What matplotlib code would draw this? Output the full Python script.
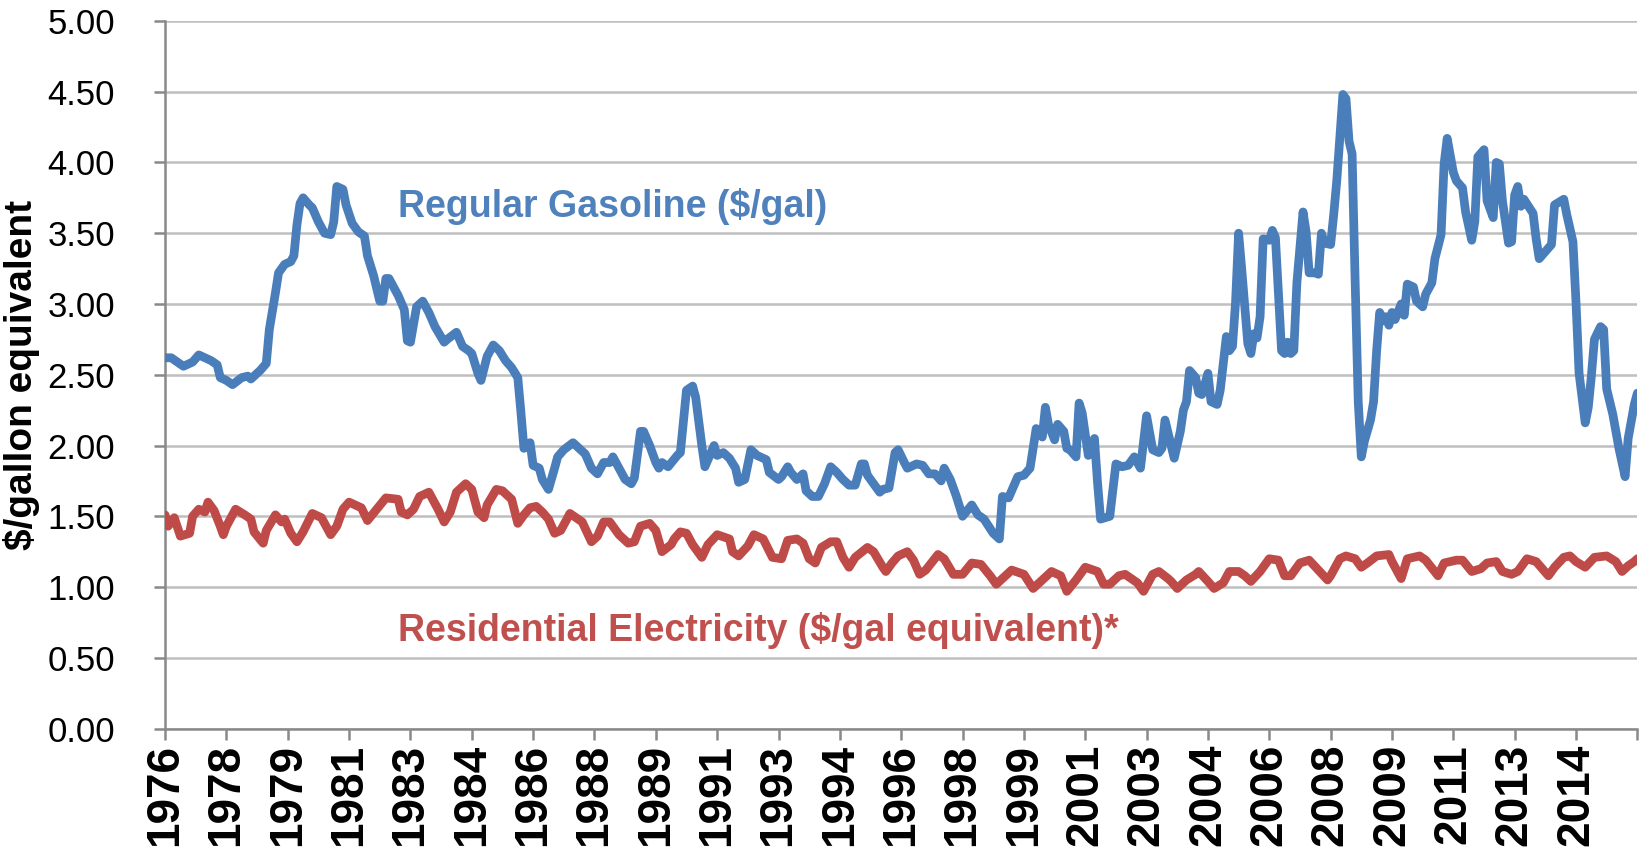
import matplotlib
matplotlib.use("Agg")
import matplotlib.pyplot as plt
from matplotlib.ticker import MultipleLocator, FixedLocator

plt.rcParams['font.family'] = ['Liberation Sans', 'DejaVu Sans']

# months counted from the first observation (Aug 1976)
gas_month = [0, 2, 4, 6, 9, 11, 15, 17, 18, 20, 22, 25, 27, 28, 31, 33, 34, 36, 37, 39,
             41, 42, 43, 44, 45, 47, 48, 50, 52, 54, 55, 56, 58, 59, 61, 63, 65, 66, 68, 70,
             71, 72, 73, 76, 78, 79, 80, 82, 84, 86, 88, 91, 92, 95, 97, 99, 100, 102, 103, 105,
             107, 109, 111, 113, 115, 116, 117, 119, 120, 122, 123, 125, 127, 128, 130, 133, 135, 137, 139, 141,
             143, 145, 146, 148, 150, 152, 153, 155, 156, 158, 160, 161, 162, 164, 167, 168, 170, 172, 173, 175,
             176, 179, 180, 182, 184, 186, 187, 189, 191, 193, 196, 197, 200, 201, 203, 204, 206, 208, 209, 211,
             213, 215, 217, 219, 221, 223, 225, 227, 228, 229, 231, 233, 234, 236, 238, 239, 241, 242, 245, 247,
             249, 251, 253, 254, 256, 258, 260, 263, 265, 267, 270, 272, 273, 275, 278, 280, 282, 284, 286, 287,
             288, 290, 291, 293, 294, 295, 297, 298, 299, 301, 303, 304, 305, 308, 310, 312, 314, 316, 318, 320,
             322, 324, 325, 326, 328, 329, 331, 332, 333, 334, 336, 337, 338, 340, 341, 343, 344, 346, 347, 348,
             349, 350, 351, 353, 354, 355, 356, 357, 358, 360, 361, 362, 364, 365, 366, 367, 368, 369, 371, 372,
             373, 375, 376, 377, 378, 380, 381, 382, 384, 385, 386, 387, 388, 389, 390, 391, 393, 394, 395, 396,
             397, 398, 399, 400, 401, 403, 404, 405, 407, 408, 410, 411, 413, 414, 416, 417, 418, 420, 421, 423,
             424, 426, 427, 428, 430, 431, 433, 434, 435, 436, 438, 439, 440, 441, 442, 443, 446, 447, 448, 450,
             452, 453, 456, 457, 459, 460, 461, 463, 464, 465, 466, 468, 469, 470, 472, 474, 476, 477, 479, 480]
gas_price = [2.62, 2.62, 2.59, 2.56, 2.59, 2.64, 2.60, 2.57, 2.48, 2.46, 2.43, 2.48, 2.49, 2.47, 2.53, 2.58, 2.82, 3.08, 3.22, 3.28,
             3.30, 3.34, 3.56, 3.71, 3.75, 3.70, 3.68, 3.58, 3.50, 3.49, 3.58, 3.83, 3.81, 3.70, 3.57, 3.51, 3.48, 3.34, 3.20, 3.02,
             3.02, 3.18, 3.18, 3.06, 2.96, 2.74, 2.73, 2.98, 3.02, 2.94, 2.84, 2.73, 2.75, 2.80, 2.70, 2.67, 2.65, 2.51, 2.46, 2.63,
             2.71, 2.67, 2.60, 2.55, 2.48, 2.24, 1.98, 2.02, 1.86, 1.84, 1.76, 1.69, 1.84, 1.92, 1.97, 2.02, 1.98, 1.94, 1.84, 1.80,
             1.88, 1.88, 1.92, 1.84, 1.76, 1.73, 1.77, 2.10, 2.10, 2.00, 1.88, 1.84, 1.88, 1.85, 1.93, 1.95, 2.39, 2.42, 2.34, 2.00,
             1.85, 2.00, 1.93, 1.95, 1.91, 1.84, 1.74, 1.76, 1.97, 1.93, 1.90, 1.81, 1.76, 1.78, 1.85, 1.81, 1.76, 1.80, 1.68, 1.64,
             1.64, 1.73, 1.85, 1.81, 1.76, 1.72, 1.72, 1.87, 1.87, 1.79, 1.73, 1.67, 1.69, 1.70, 1.95, 1.97, 1.88, 1.84, 1.87, 1.86,
             1.80, 1.80, 1.75, 1.84, 1.76, 1.64, 1.50, 1.58, 1.51, 1.48, 1.38, 1.34, 1.64, 1.63, 1.78, 1.79, 1.84, 2.12, 2.06, 2.27,
             2.15, 2.04, 2.15, 2.10, 1.98, 1.97, 1.92, 2.30, 2.23, 1.93, 2.05, 1.74, 1.48, 1.50, 1.87, 1.85, 1.86, 1.92, 1.84, 2.21,
             1.97, 1.95, 1.98, 2.18, 2.00, 1.91, 2.10, 2.25, 2.31, 2.53, 2.48, 2.37, 2.36, 2.51, 2.31, 2.29, 2.39, 2.77, 2.67, 2.70,
             3.01, 3.50, 3.25, 2.72, 2.65, 2.79, 2.76, 2.91, 3.46, 3.45, 3.52, 3.47, 2.67, 2.65, 2.73, 2.65, 2.67, 3.15, 3.65, 3.51,
             3.22, 3.22, 3.21, 3.50, 3.43, 3.42, 3.63, 3.87, 4.48, 4.45, 4.15, 4.06, 3.15, 2.31, 1.92, 2.03, 2.18, 2.31, 2.67, 2.94,
             2.88, 2.91, 2.85, 2.94, 2.89, 3.00, 2.92, 3.14, 3.12, 3.02, 2.98, 3.07, 3.15, 3.32, 3.49, 3.99, 4.17, 3.93, 3.87, 3.82,
             3.65, 3.45, 3.58, 4.04, 4.09, 3.73, 3.61, 4.00, 3.99, 3.73, 3.43, 3.44, 3.77, 3.83, 3.69, 3.74, 3.64, 3.46, 3.32, 3.37,
             3.42, 3.70, 3.74, 3.63, 3.44, 3.01, 2.51, 2.16, 2.27, 2.49, 2.75, 2.84, 2.82, 2.40, 2.22, 1.98, 1.78, 2.05, 2.29, 2.37]

elec_month = [0, 1, 3, 5, 8, 9, 11, 13, 14, 16, 18, 19, 20, 23, 26, 28, 29, 32, 33, 36,
              38, 39, 41, 43, 45, 48, 51, 54, 56, 58, 60, 64, 66, 69, 72, 76, 77, 79, 81, 83,
              86, 89, 91, 93, 95, 98, 100, 102, 104, 105, 108, 110, 113, 115, 117, 119, 121, 123, 125, 127,
              129, 132, 134, 136, 139, 141, 143, 145, 148, 151, 153, 155, 158, 160, 162, 165, 166, 168, 170, 172,
              175, 177, 180, 184, 185, 187, 190, 192, 195, 198, 201, 203, 206, 208, 210, 212, 214, 217, 219, 221,
              223, 225, 229, 231, 234, 235, 237, 239, 242, 244, 246, 248, 252, 254, 257, 260, 263, 266, 269, 271,
              273, 276, 280, 283, 286, 289, 292, 294, 297, 300, 304, 306, 308, 311, 313, 317, 319, 322, 324, 327,
              328, 330, 333, 336, 337, 340, 342, 345, 347, 350, 352, 354, 357, 360, 363, 365, 367, 370, 373, 376,
              379, 380, 383, 385, 388, 390, 392, 395, 399, 400, 403, 405, 409, 411, 415, 417, 421, 423, 426, 429,
              431, 434, 436, 439, 441, 444, 447, 451, 453, 456, 458, 460, 463, 466, 470, 473, 475, 477, 479, 480]
elec_price = [1.51, 1.43, 1.49, 1.36, 1.38, 1.50, 1.55, 1.53, 1.60, 1.54, 1.43, 1.37, 1.43, 1.55, 1.51, 1.48, 1.39, 1.31, 1.40, 1.51,
              1.46, 1.48, 1.38, 1.32, 1.39, 1.52, 1.49, 1.37, 1.43, 1.55, 1.60, 1.56, 1.47, 1.55, 1.63, 1.62, 1.53, 1.51, 1.55, 1.64,
              1.67, 1.55, 1.46, 1.53, 1.67, 1.73, 1.69, 1.53, 1.49, 1.58, 1.69, 1.68, 1.62, 1.45, 1.51, 1.56, 1.57, 1.53, 1.48, 1.38,
              1.40, 1.52, 1.49, 1.46, 1.32, 1.36, 1.46, 1.46, 1.37, 1.31, 1.32, 1.43, 1.45, 1.40, 1.25, 1.30, 1.34, 1.39, 1.38, 1.30,
              1.21, 1.30, 1.37, 1.34, 1.25, 1.22, 1.29, 1.37, 1.34, 1.21, 1.20, 1.33, 1.34, 1.31, 1.20, 1.17, 1.28, 1.32, 1.32, 1.21,
              1.14, 1.21, 1.28, 1.25, 1.14, 1.11, 1.17, 1.22, 1.25, 1.19, 1.09, 1.12, 1.23, 1.20, 1.09, 1.09, 1.17, 1.16, 1.08, 1.02,
              1.06, 1.12, 1.09, 0.99, 1.05, 1.11, 1.08, 0.97, 1.05, 1.14, 1.11, 1.02, 1.02, 1.08, 1.09, 1.03, 0.97, 1.09, 1.11, 1.06,
              1.04, 0.99, 1.05, 1.09, 1.11, 1.04, 0.99, 1.03, 1.11, 1.11, 1.08, 1.04, 1.11, 1.20, 1.19, 1.08, 1.08, 1.17, 1.19, 1.12,
              1.05, 1.08, 1.20, 1.22, 1.20, 1.14, 1.17, 1.22, 1.23, 1.18, 1.06, 1.20, 1.22, 1.19, 1.08, 1.17, 1.19, 1.19, 1.11, 1.13,
              1.17, 1.18, 1.11, 1.09, 1.11, 1.20, 1.18, 1.08, 1.14, 1.21, 1.22, 1.18, 1.14, 1.21, 1.22, 1.18, 1.11, 1.15, 1.18, 1.20]

tick_years = ['1976', '1978', '1979', '1981', '1983', '1984', '1986', '1988', '1989', '1991',
              '1993', '1994', '1996', '1998', '1999', '2001', '2003', '2004', '2006', '2008',
              '2009', '2011', '2013', '2014', '']

gas_label = 'Regular Gasoline ($/gal)'
elec_label = 'Residential Electricity ($/gal equivalent)*'

blue = '#4A7EBB'
red = '#BE4B48'
grid_gray = '#BFBFBF'
axis_gray = '#898989'

fig = plt.figure(figsize=(16.39, 8.49), dpi=100)
ax = fig.add_axes([0.1007, 0.1418, 0.8983, 0.8336])

ax.plot(gas_month, gas_price, color=blue, lw=6.3, solid_joinstyle='round', solid_capstyle='round', zorder=3)
ax.plot(elec_month, elec_price, color=red, lw=6.3, solid_joinstyle='round', solid_capstyle='round', zorder=3)

# category-style axis: a tick every 20 months
ax.set_xlim(0, 480)
ax.set_ylim(0, 5)
ax.xaxis.set_major_locator(FixedLocator(range(0, 481, 20)))
ax.set_xticklabels(tick_years, rotation=90, fontsize=33, fontweight='bold', va='top')
ax.yaxis.set_major_locator(MultipleLocator(0.5))
ax.set_yticklabels([f'{v:.2f}' for v in ax.get_yticks()], fontsize=25)

ax.grid(axis='y', color=grid_gray, lw=1.8, zorder=0)
for side in ['top', 'right']:
    ax.spines[side].set_visible(False)
for side in ['left', 'bottom']:
    ax.spines[side].set_color(axis_gray)
    ax.spines[side].set_linewidth(1.8)
ax.tick_params(axis='both', direction='out', length=8, width=1.8, color=axis_gray)
ax.tick_params(axis='x', pad=3)
ax.tick_params(axis='y', pad=28)

ax.set_ylabel('$/gallon equivalent', fontsize=28, fontweight='bold')
ax.yaxis.set_label_coords(-0.085, 0.5)

ax.text(76, 3.69, gas_label, color='#4F81BD', fontsize=27, fontweight='bold', va='center')
ax.text(76, 0.69, elec_label, color='#C0504D', fontsize=27, fontweight='bold', va='center')

fig.savefig('out.png', dpi=100)
